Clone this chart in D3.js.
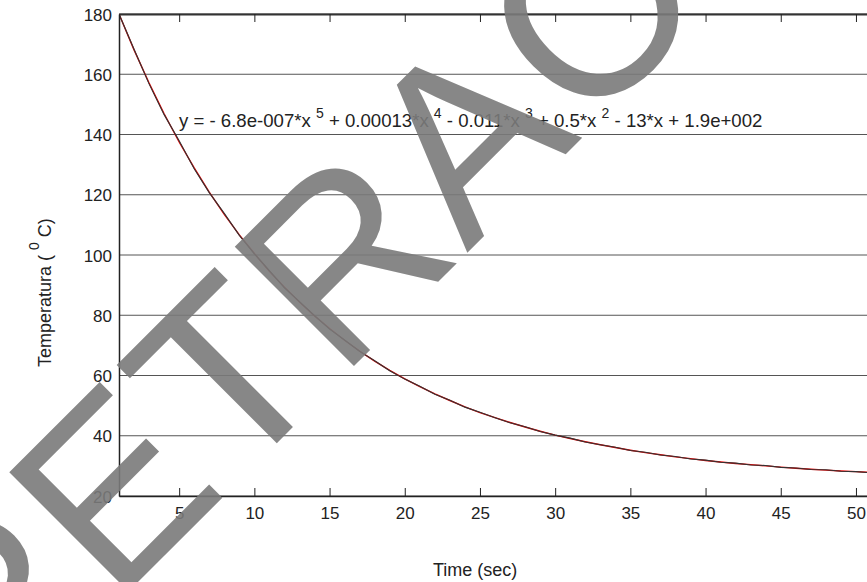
<!DOCTYPE html>
<html>
<head>
<meta charset="utf-8">
<script src="https://cdn.jsdelivr.net/npm/d3@7"></script>
<style>
  body { margin: 0; background: #fff; }
  svg { display: block; }
  text { font-family: "Liberation Sans", Arial, Helvetica, sans-serif; fill: #222; }
</style>
</head>
<body>
<svg id="chart" width="867" height="582"></svg>
<script>
// time samples (sec)
var timeSec = [1, 2, 3, 4, 5, 6, 7, 8, 9, 10, 11, 12, 13, 14, 15, 16, 17, 18, 19, 20,
  21, 22, 23, 24, 25, 26, 27, 28, 29, 30, 31, 32, 33, 34, 35, 36, 37, 38, 39, 40,
  41, 42, 43, 44, 45, 46, 47, 48, 49, 50, 51];

var tempMeasured = [180.0, 168.3, 156.8, 146.6, 137.9, 128.6, 120.7, 113.8, 106.5, 100.4,
  94.8, 89.1, 84.5, 79.9, 75.4, 71.8, 68.0, 64.9, 61.6, 58.8,
  56.4, 53.8, 51.8, 49.5, 47.8, 46.0, 44.3, 43.0, 41.4, 40.2,
  39.2, 37.9, 37.0, 36.2, 35.1, 34.5, 33.6, 33.1, 32.3, 31.9,
  31.2, 30.9, 30.3, 30.1, 29.5, 29.3, 28.8, 28.7, 28.2, 28.1, 27.7];

// 5th order polynomial fit (red line)
var tempFit = [180.0, 168.1, 157.1, 146.9, 137.5, 128.9, 120.9, 113.5, 106.7, 100.5,
  94.6, 89.3, 84.4, 79.8, 75.6, 71.7, 68.1, 64.8, 61.7, 58.9,
  56.3, 53.9, 51.7, 49.6, 47.7, 46.0, 44.4, 42.9, 41.5, 40.2,
  39.1, 38.0, 37.0, 36.1, 35.2, 34.4, 33.7, 33.0, 32.4, 31.8,
  31.3, 30.8, 30.4, 30.0, 29.6, 29.2, 28.9, 28.6, 28.3, 28.1, 27.8];

var xTicks = [5, 10, 15, 20, 25, 30, 35, 40, 45, 50];
var yTicks = [20, 40, 60, 80, 100, 120, 140, 160, 180];

// equation pieces: [text, exponent]
var eqnParts = [
  ["y = - 6.8e-007*x ", "5"],
  [" + 0.00013*x ", "4"],
  [" - 0.011*x ", "3"],
  [" + 0.5*x ", "2"],
  [" - 13*x + 1.9e+002", null]
];

function drawChart() {
  var svg = d3.select("#chart");

  var padL = 119, padR = 871, padT = 14, padB = 496;

  var x = d3.scaleLinear().domain([1, 51]).range([padL, padR]);
  var y = d3.scaleLinear().domain([20, 180]).range([padB, padT]);

  svg.append("clipPath").attr("id", "plotclip")
    .append("rect")
    .attr("x", padL).attr("y", padT - 1)
    .attr("width", padR - padL).attr("height", padB - padT + 2);

  // horizontal grid
  svg.append("g")
    .selectAll("line")
    .data(yTicks)
    .enter()
    .append("line")
    .attr("x1", padL).attr("x2", padR)
    .attr("y1", function (d) { return y(d); })
    .attr("y2", function (d) { return y(d); })
    .attr("stroke", "#555")
    .attr("stroke-width", 1);

  // curves
  var line = function (vals) {
    return d3.line()
      .x(function (d, i) { return x(timeSec[i]); })
      .y(function (d) { return y(d); })(vals);
  };

  var plot = svg.append("g").attr("clip-path", "url(#plotclip)");
  plot.append("path")
    .attr("d", line(tempFit))
    .attr("fill", "none")
    .attr("stroke", "#e00000")
    .attr("stroke-width", 1.4);
  plot.append("path")
    .attr("d", line(tempMeasured))
    .attr("fill", "none")
    .attr("stroke", "#333")
    .attr("stroke-width", 1.1);

  // axes
  var xAxis = svg.append("g")
    .attr("transform", "translate(0," + padB + ")")
    .call(d3.axisBottom(x).tickValues(xTicks).tickSize(-8).tickPadding(11).tickSizeOuter(0));
  var xTop = svg.append("g")
    .attr("transform", "translate(0," + padT + ")")
    .call(d3.axisTop(x).tickValues(xTicks).tickSize(-8).tickFormat("").tickSizeOuter(0));
  var yAxis = svg.append("g")
    .attr("transform", "translate(" + padL + ",0)")
    .call(d3.axisLeft(y).tickValues(yTicks).tickSize(0).tickPadding(7).tickSizeOuter(0));

  [xAxis, xTop, yAxis].forEach(function (g) {
    g.selectAll("text").style("font-size", "17px").attr("fill", "#222");
    g.selectAll(".tick line").attr("stroke", "#222");
    g.select(".domain").attr("stroke", "#222").attr("stroke-width", 1.5);
  });
  xTop.select(".domain").attr("stroke", "#333").attr("stroke-width", 2.2);
  yAxis.selectAll("text").attr("dy", "0.36em");

  // axis titles
  svg.append("text")
    .attr("x", 433).attr("y", 576)
    .style("font-size", "18px")
    .text("Time (sec)");

  var ylab = svg.append("text")
    .attr("transform", "translate(51,367) rotate(-90)")
    .style("font-size", "18px");
  ylab.append("tspan").text("Temperatura (   ");
  ylab.append("tspan").attr("dy", -12).style("font-size", "14px").text("0");
  ylab.append("tspan").attr("dy", 12).text("   C)");

  // fit equation
  var eqn = svg.append("text")
    .attr("x", 179).attr("y", 127)
    .style("font-size", "18.6px");
  var shift = 0;
  eqnParts.forEach(function (p) {
    eqn.append("tspan").attr("dy", shift).text(p[0]);
    shift = 0;
    if (p[1]) {
      eqn.append("tspan").attr("dy", -9).style("font-size", "14px").text(p[1]);
      shift = 9;
    }
  });

  // watermark
  svg.append("text")
    .attr("transform", "translate(-13,733) rotate(-45)")
    .style("font-size", "245px")
    .style("letter-spacing", "3px")
    .style("fill", "#7a7a7a")
    .style("fill-opacity", 0.9)
    .text("RETRACTED");
}

drawChart();
</script>
</body>
</html>
